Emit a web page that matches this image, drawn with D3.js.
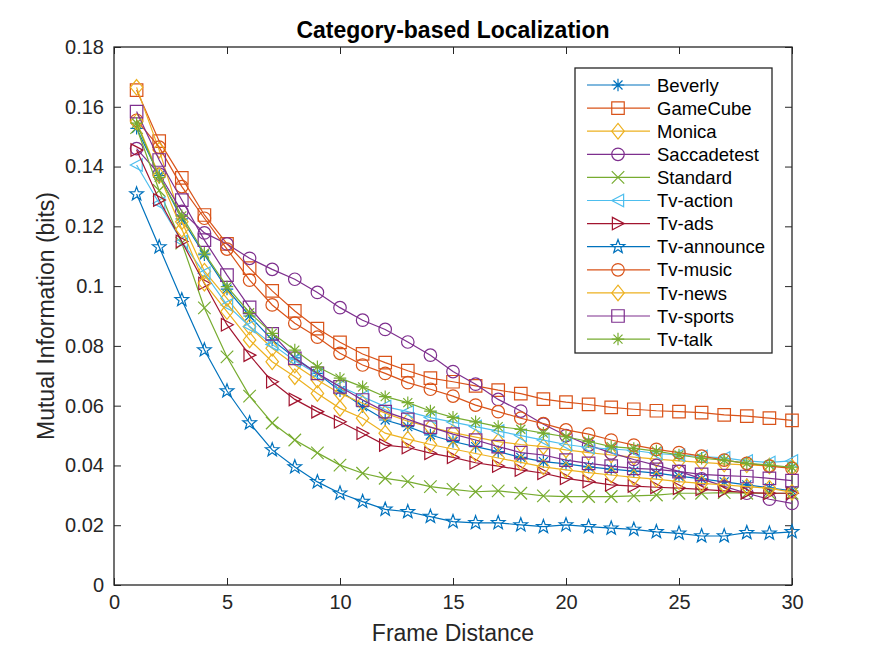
<!DOCTYPE html>
<html>
<head>
<meta charset="utf-8">
<script src="https://cdn.jsdelivr.net/npm/d3@7"></script>
<style>
  body { margin: 0; background: #fff; }
  svg { font-family: "Liberation Sans", Arial, sans-serif; }
  .tick text { fill: #262626; }
  .tick line { stroke: #262626; }
</style>
</head>
<body>
<svg width="875" height="657"></svg>
<script>
// frame distance 1..30
const frames = d3.range(1, 31);

const names = ['Beverly', 'GameCube', 'Monica', 'Saccadetest', 'Standard', 'Tv-action',
  'Tv-ads', 'Tv-announce', 'Tv-music', 'Tv-news', 'Tv-sports', 'Tv-talk'];

const beverly = [0.1528, 0.137, 0.1225, 0.1105, 0.099, 0.090, 0.082, 0.076, 0.0708, 0.065,
  0.0597, 0.0552, 0.053, 0.0502, 0.048, 0.0463, 0.0446, 0.0427, 0.0413, 0.0405,
  0.0395, 0.0388, 0.0381, 0.0374, 0.0364, 0.0355, 0.0345, 0.0335, 0.0325, 0.0315];
const gamecube = [0.1656, 0.1485, 0.1362, 0.1238, 0.1141, 0.1060, 0.0984, 0.0917, 0.0858, 0.0812,
  0.0773, 0.0744, 0.0717, 0.0692, 0.068, 0.0666, 0.0652, 0.064, 0.0622, 0.0612,
  0.0604, 0.0594, 0.0588, 0.0583, 0.058, 0.0577, 0.0569, 0.0565, 0.0558, 0.0551];
const monica = [0.1665, 0.1455, 0.1215, 0.1050, 0.0959, 0.0864, 0.0792, 0.0736, 0.0686, 0.0641,
  0.0608, 0.0575, 0.0548, 0.0528, 0.051, 0.0495, 0.048, 0.047, 0.0463, 0.0452,
  0.0443, 0.0435, 0.0428, 0.0421, 0.0415, 0.041, 0.0405, 0.0402, 0.0398, 0.0394];
const saccadetest = [0.146, 0.1375, 0.125, 0.1178, 0.1141, 0.1093, 0.1056, 0.1023, 0.0979, 0.0928,
  0.0886, 0.0855, 0.0813, 0.0769, 0.0714, 0.0672, 0.0621, 0.0582, 0.0538, 0.050,
  0.0468, 0.0442, 0.042, 0.040, 0.038, 0.0355, 0.033, 0.0307, 0.0287, 0.0273];
const standard = [0.153, 0.132, 0.1144, 0.0927, 0.0763, 0.0632, 0.0542, 0.0485, 0.0442, 0.0401,
  0.0374, 0.0357, 0.0346, 0.0329, 0.032, 0.0312, 0.0315, 0.0307, 0.0298, 0.0296,
  0.0296, 0.0296, 0.0298, 0.0301, 0.0307, 0.0307, 0.0309, 0.0307, 0.0307, 0.0307];
const tvAction = [0.1405, 0.1277, 0.1149, 0.1043, 0.0937, 0.0865, 0.0805, 0.075, 0.0705, 0.0665,
  0.063, 0.0597, 0.058, 0.056, 0.0545, 0.053, 0.0515, 0.050, 0.0485, 0.047,
  0.046, 0.0455, 0.045, 0.044, 0.0435, 0.043, 0.0425, 0.0415, 0.041, 0.0415];
const tvAds = [0.1455, 0.1288, 0.1149, 0.1009, 0.0871, 0.0769, 0.068, 0.0621, 0.058, 0.0546,
  0.0508, 0.0468, 0.046, 0.0441, 0.0427, 0.0409, 0.0398, 0.0385, 0.0374, 0.0357,
  0.0346, 0.0335, 0.0331, 0.0327, 0.0324, 0.032, 0.0315, 0.0309, 0.0307, 0.0307];
const tvAnnounce = [0.1308, 0.1131, 0.0954, 0.0786, 0.0649, 0.0542, 0.0452, 0.0395, 0.0345, 0.0307,
  0.0279, 0.0253, 0.0245, 0.0229, 0.0212, 0.0208, 0.0208, 0.0201, 0.0195, 0.0201,
  0.0195, 0.019, 0.0186, 0.0178, 0.0173, 0.0164, 0.0164, 0.0175, 0.0173, 0.0178];
const tvMusic = [0.1555, 0.1465, 0.1333, 0.1227, 0.1124, 0.102, 0.0937, 0.0876, 0.0829, 0.0775,
  0.0736, 0.0708, 0.0677, 0.0655, 0.0632, 0.0602, 0.058, 0.0558, 0.054, 0.0519,
  0.0505, 0.0485, 0.0468, 0.0454, 0.0443, 0.0431, 0.0418, 0.0407, 0.0398, 0.039];
const tvNews = [0.155, 0.137, 0.119, 0.101, 0.0915, 0.082, 0.0747, 0.0697, 0.0641, 0.0591,
  0.0558, 0.0508, 0.0488, 0.047, 0.0455, 0.044, 0.0425, 0.041, 0.0395, 0.0385,
  0.0376, 0.0368, 0.036, 0.0354, 0.0346, 0.034, 0.0335, 0.0329, 0.0324, 0.031];
const tvSports = [0.1584, 0.1422, 0.1288, 0.1154, 0.1037, 0.0929, 0.084, 0.0758, 0.0708, 0.0663,
  0.0619, 0.058, 0.0554, 0.0528, 0.0505, 0.0485, 0.0463, 0.0443, 0.0435, 0.0418,
  0.0407, 0.0398, 0.039, 0.0387, 0.0379, 0.037, 0.0366, 0.0363, 0.0357, 0.0349];
const tvTalk = [0.1545, 0.1364, 0.1235, 0.111, 0.0998, 0.0911, 0.0842, 0.0786, 0.073, 0.0692,
  0.0663, 0.063, 0.061, 0.0582, 0.0561, 0.0546, 0.053, 0.0521, 0.0508, 0.0496,
  0.048, 0.0463, 0.0457, 0.0448, 0.0435, 0.0424, 0.0418, 0.0407, 0.0401, 0.0394];

const xTicks = [0, 5, 10, 15, 20, 25, 30];
const yTicks = [0, 0.02, 0.04, 0.06, 0.08, 0.1, 0.12, 0.14, 0.16, 0.18];
const yTickLabels = ['0', '0.02', '0.04', '0.06', '0.08', '0.1', '0.12', '0.14', '0.16', '0.18'];

const allValues = [beverly, gamecube, monica, saccadetest, standard, tvAction,
  tvAds, tvAnnounce, tvMusic, tvNews, tvSports, tvTalk];

// matlab default colour order + marker per series
const colors = ['#0072BD', '#D95319', '#EDB120', '#7E2F8E', '#77AC30', '#4DBEEE',
  '#A2142F', '#0072BD', '#D95319', '#EDB120', '#7E2F8E', '#77AC30'];
const markers = ['*', 's', 'd', 'o', 'x', '<', '>', 'p', 'o', 'd', 's', '*'];

const mLeft = 114, mRight = 792, mTop = 47, mBottom = 585;
const svg = d3.select('svg');

const x = d3.scaleLinear().domain([0, 30]).range([mLeft, mRight]);
const y = d3.scaleLinear().domain([0, 0.18]).range([mBottom, mTop]);

svg.append('rect').attr('width', 875).attr('height', 657).attr('fill', '#fff');

// axes with inward ticks on all four sides
const tk = 7;
svg.append('g').attr('transform', `translate(0,${mBottom})`)
  .call(d3.axisBottom(x).tickValues(xTicks).tickSize(-tk).tickPadding(10).tickFormat(d3.format('d')))
  .call(g => g.select('.domain').remove())
  .call(g => g.selectAll('text').attr('font-size', 20));
svg.append('g').attr('transform', `translate(0,${mTop})`)
  .call(d3.axisTop(x).tickValues(xTicks).tickSize(-tk).tickFormat(''))
  .call(g => g.select('.domain').remove());
svg.append('g').attr('transform', `translate(${mLeft},0)`)
  .call(d3.axisLeft(y).tickValues(yTicks).tickSize(-tk).tickPadding(10)
    .tickFormat((d, i) => yTickLabels[i]))
  .call(g => g.select('.domain').remove())
  .call(g => g.selectAll('text').attr('font-size', 20));
svg.append('g').attr('transform', `translate(${mRight},0)`)
  .call(d3.axisRight(y).tickValues(yTicks).tickSize(-tk).tickFormat(''))
  .call(g => g.select('.domain').remove());
svg.selectAll('.tick line').attr('stroke', '#262626').attr('stroke-width', 1);

svg.append('rect')
  .attr('x', mLeft).attr('y', mTop)
  .attr('width', mRight - mLeft).attr('height', mBottom - mTop)
  .attr('fill', 'none').attr('stroke', '#262626').attr('stroke-width', 1.3);

// marker shapes
function markerPath(m, s) {
  const h = s / 2;
  if (m === 's') return `M${-h},${-h}H${h}V${h}H${-h}Z`;
  if (m === 'd') return `M0,${-h * 1.25}L${h},0L0,${h * 1.25}L${-h},0Z`;
  if (m === 'o') return d3.arc()({ innerRadius: 0, outerRadius: h, startAngle: 0, endAngle: 2 * Math.PI });
  if (m === 'x') return `M${-h},${-h}L${h},${h}M${-h},${h}L${h},${-h}`;
  if (m === '*') return `M0,${-h}V${h}M${-h},0H${h}M${-h * 0.72},${-h * 0.72}L${h * 0.72},${h * 0.72}M${-h * 0.72},${h * 0.72}L${h * 0.72},${-h * 0.72}`;
  if (m === '<') return `M${-h},0L${h * 0.9},${-h}L${h * 0.9},${h}Z`;
  if (m === '>') return `M${h},0L${-h * 0.9},${-h}L${-h * 0.9},${h}Z`;
  if (m === 'p') {
    const pts = [];
    for (let k = 0; k < 10; k++) {
      const r = k % 2 === 0 ? h * 1.15 : h * 0.47;
      const a = -Math.PI / 2 + k * Math.PI / 5;
      pts.push([r * Math.cos(a), r * Math.sin(a)]);
    }
    return 'M' + pts.map(p => p.join(',')).join('L') + 'Z';
  }
  return '';
}

const series = names.map((n, i) => ({
  name: n, color: colors[i], marker: markers[i],
  points: frames.map((f, j) => ({ f: f, v: allValues[i][j] }))
}));

const line = d3.line().x(d => x(d.f)).y(d => y(d.v));
const plot = svg.append('g');

series.forEach(s => {
  const g = plot.append('g');
  g.append('path').datum(s.points)
    .attr('d', line).attr('fill', 'none')
    .attr('stroke', s.color).attr('stroke-width', 1.2);
  g.selectAll('path.mk').data(s.points).enter().append('path')
    .attr('class', 'mk')
    .attr('transform', d => `translate(${x(d.f)},${y(d.v)})`)
    .attr('d', markerPath(s.marker, 12.5))
    .attr('fill', 'none').attr('stroke', s.color).attr('stroke-width', 1.2);
});

// title and labels
svg.append('text').attr('x', (mLeft + mRight) / 2).attr('y', 38)
  .attr('text-anchor', 'middle').attr('font-size', 23).attr('font-weight', 'bold')
  .attr('fill', '#000').text('Category-based Localization');
svg.append('text').attr('x', (mLeft + mRight) / 2).attr('y', 641)
  .attr('text-anchor', 'middle').attr('font-size', 23).attr('fill', '#262626')
  .text('Frame Distance');
svg.append('text').attr('transform', `translate(54,${(mTop + mBottom) / 2}) rotate(-90)`)
  .attr('text-anchor', 'middle').attr('font-size', 23).attr('fill', '#262626')
  .text('Mutual Information (bits)');

// legend
const lg = svg.append('g');
lg.append('rect').attr('x', 575).attr('y', 68).attr('width', 197).attr('height', 285)
  .attr('fill', '#fff').attr('stroke', '#262626').attr('stroke-width', 1.3);
series.forEach((s, i) => {
  const ly = 85 + i * 23.1;
  lg.append('line').attr('x1', 587).attr('x2', 650).attr('y1', ly).attr('y2', ly)
    .attr('stroke', s.color).attr('stroke-width', 1.2);
  lg.append('path').attr('transform', `translate(618,${ly})`)
    .attr('d', markerPath(s.marker, 12.5))
    .attr('fill', 'none').attr('stroke', s.color).attr('stroke-width', 1.2);
  lg.append('text').attr('x', 657).attr('y', ly).attr('dy', '0.36em')
    .attr('font-size', 18.5).attr('fill', '#000').text(s.name);
});
</script>
</body>
</html>
